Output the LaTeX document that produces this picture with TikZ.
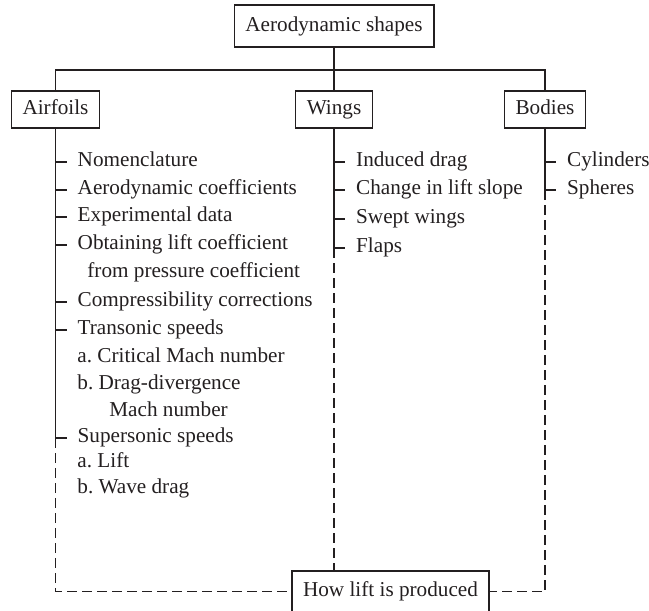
\documentclass[tikz,border=0pt]{standalone}
\usepackage{fontspec}
\setmainfont{Liberation Serif}
\usepackage{xcolor}
\definecolor{ink}{RGB}{35,31,32}
\frenchspacing

\tikzset{
  box/.style={draw=ink,text=ink,line width=0.7pt,inner xsep=5.6pt,minimum height=18.5pt,
    text height=0.7em,text depth=0.2em,font=\fontsize{10.6}{12}\selectfont},
  item/.style={anchor=west,text=ink,inner xsep=5.25pt,inner ysep=0pt,
    text height=0.68em,text depth=0.22em,font=\fontsize{10.6}{12}\selectfont},
  trunk/.style={ink,line width=0.7pt},
  link/.style={ink,line width=0.7pt,dash pattern=on 5pt off 2.5pt},
}

\begin{document}
\begin{tikzpicture}[x=0.5pt,y=-0.5pt]
  \useasboundingbox (0,0) rectangle (649,611);
  % boxes: pixel grid of the page, y runs down
  \node[box,minimum height=21pt] (top) at (334,26) {Aerodynamic shapes};
  \node[box] (Airfoils) at (55.5,109.5) {Airfoils};
  \node[box] (Wings) at (334,109.5) {Wings};
  \node[box] (Bodies) at (545,109.5) {Bodies};
  \node[box,minimum height=20.5pt] (how) at (390.5,591.5) {How lift is produced};
  \coordinate (bar) at (334,70);
  \draw[trunk] (top) -- (Wings);
  \draw[trunk] (Airfoils) |- (bar) -| (Bodies);
  % airfoils list
  \coordinate (af-end) at (55.5,438);
  \draw[trunk] (Airfoils) -- (af-end);
  \foreach \y/\t [count=\i] in {162/Nomenclature,190/Aerodynamic coefficients,217/Experimental data,
      245/Obtaining lift coefficient,302/Compressibility corrections,330/Transonic speeds,438/Supersonic speeds}
    \draw[trunk] (55.5,\y) -- ++(11,0) node[item] (af\i) {\t};
  \foreach \x/\y/\t [count=\i] in {76.5/273/from pressure coefficient,66.5/358/a. Critical Mach number,
      66.5/385/b. Drag-divergence,98.5/412/Mach number,66.5/463/a. Lift,66.5/489/b. Wave drag}
    \node[item] (afs\i) at (\x,\y) {\t};
  % wings list
  \coordinate (wg-end) at (334,248);
  \draw[trunk] (Wings) -- (wg-end);
  \foreach \y/\t [count=\i] in {162/Induced drag,190/Change in lift slope,219/Swept wings,248/Flaps}
    \draw[trunk] (334,\y) -- ++(11,0) node[item] (wg\i) {\t};
  % bodies list
  \coordinate (bd-end) at (545,190);
  \draw[trunk] (Bodies) -- (bd-end);
  \foreach \y/\t [count=\i] in {162/Cylinders,190/Spheres}
    \draw[trunk] (545,\y) -- ++(11,0) node[item] (bd\i) {\t};
  % dashed links to the lift box
  \draw[link] (af-end) |- (how.west);
  \draw[link] (wg-end) -- (how.north -| wg-end);
  \draw[link] (bd-end) |- (how.east);
\end{tikzpicture}
\end{document}
